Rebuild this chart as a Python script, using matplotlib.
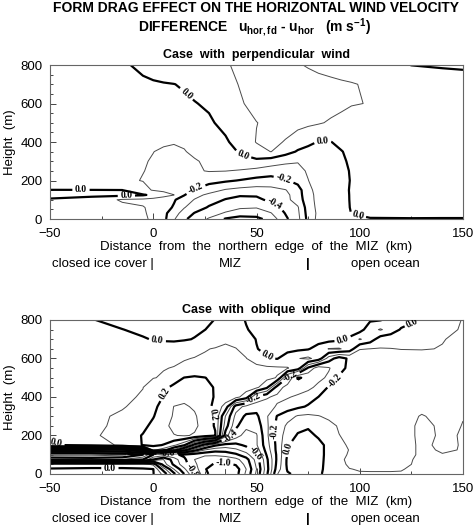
#!/usr/bin/env python3

"""
Form drag effect on the horizontal wind velocity difference, two model cases.
"""

import matplotlib
matplotlib.use("Agg")
import matplotlib.pyplot as plt
import matplotlib.transforms as mtransforms
from matplotlib.ticker import MultipleLocator

# ---- perpendicular wind case: u_hor,fd - u_hor (m/s) on a (height, distance) grid
DIST_PERP_KM = [-50, -30, -15, -5, 0, 5, 10, 15, 20, 27, 35, 42, 50, 57, 64,
                70, 75, 80, 86, 91, 96, 105, 125, 140, 150]
HEIGHT_PERP_M = [0, 30, 60, 100, 125, 150, 200, 250, 300, 350, 400, 500, 600, 700, 800]
DU_PERP = [
    [-0.06, -0.07, -0.08, -0.09, -0.11, -0.17, -0.29, -0.38, -0.45, -0.51, -0.61, -0.65, -0.63,
     -0.56, -0.42, -0.33, -0.17, -0.07, -0.05, -0.025, -0.01, -0.003, -0.002, -0.002, -0.002],
    [-0.05, -0.065, -0.08, -0.095, -0.11, -0.17, -0.26, -0.34, -0.405, -0.46, -0.51, -0.54, -0.55,
     -0.505, -0.395, -0.32, -0.16, -0.08, -0.045, -0.02, 0.001, 0.012, 0.012, 0.01, 0.01],
    [-0.04, -0.06, -0.08, -0.095, -0.12, -0.16, -0.21, -0.295, -0.35, -0.41, -0.46, -0.49, -0.495,
     -0.45, -0.37, -0.31, -0.15, -0.075, -0.04, -0.015, 0.003, 0.015, 0.015, 0.012, 0.012],
    [-0.01, -0.05, -0.11, -0.12, -0.135, -0.16, -0.19, -0.25, -0.305, -0.36, -0.405, -0.43, -0.42,
     -0.38, -0.33, -0.255, -0.14, -0.07, -0.035, -0.015, 0.004, 0.02, 0.02, 0.015, 0.015],
    [0.03, 0.03, 0.025, 0.01, -0.02, -0.06, -0.098, -0.195, -0.27, -0.32, -0.37, -0.39, -0.39,
     -0.37, -0.33, -0.245, -0.135, -0.07, -0.035, -0.014, 0.004, 0.02, 0.02, 0.015, 0.015],
    [0.002, 0.002, 0.001, -0.08, -0.105, -0.12, -0.14, -0.17, -0.205, -0.26, -0.31, -0.33, -0.34,
     -0.33, -0.305, -0.24, -0.13, -0.06, -0.03, -0.012, 0.004, 0.02, 0.02, 0.02, 0.02],
    [-0.06, -0.075, -0.09, -0.102, -0.11, -0.12, -0.13, -0.14, -0.15, -0.165, -0.185, -0.205, -0.23,
     -0.24, -0.21, -0.17, -0.102, -0.06, -0.035, -0.015, 0.003, 0.02, 0.02, 0.02, 0.02],
    [-0.06, -0.075, -0.09, -0.099, -0.105, -0.11, -0.115, -0.115, -0.11, -0.095, -0.098, -0.11, -0.13,
     -0.15, -0.15, -0.125, -0.09, -0.06, -0.035, -0.015, 0.005, 0.02, 0.02, 0.02, 0.02],
    [-0.06, -0.07, -0.085, -0.095, -0.105, -0.115, -0.12, -0.115, -0.107, -0.085, -0.05, -0.015, -0.02,
     -0.05, -0.08, -0.095, -0.08, -0.06, -0.035, -0.01, 0.01, 0.02, 0.025, 0.02, 0.02],
    [-0.06, -0.07, -0.08, -0.09, -0.099, -0.11, -0.115, -0.104, -0.085, -0.06, -0.025, 0.006, 0.06,
     0.102, 0.04, -0.01, -0.02, -0.025, -0.02, -0.002, 0.01, 0.02, 0.025, 0.02, 0.02],
    [-0.06, -0.065, -0.07, -0.08, -0.085, -0.09, -0.095, -0.09, -0.07, -0.04, -0.01, 0.03, 0.105,
     0.12, 0.095, 0.05, 0.015, -0.003, -0.001, 0.01, 0.02, 0.03, 0.03, 0.025, 0.02],
    [-0.06, -0.06, -0.05, -0.045, -0.04, -0.035, -0.03, -0.025, -0.02, -0.01, 0.02, 0.06, 0.098,
     0.12, 0.13, 0.13, 0.12, 0.108, 0.09, 0.075, 0.065, 0.05, 0.04, 0.035, 0.03],
    [-0.06, -0.05, -0.04, -0.03, -0.025, -0.02, -0.015, -0.01, -0.003, 0.01, 0.04, 0.09, 0.13,
     0.14, 0.145, 0.145, 0.14, 0.14, 0.13, 0.12, 0.105, 0.097, 0.06, 0.05, 0.045],
    [-0.05, -0.04, -0.025, -0.012, -0.008, -0.004, -0.001, 0.006, 0.02, 0.04, 0.07, 0.105, 0.12,
     0.13, 0.13, 0.13, 0.125, 0.12, 0.115, 0.11, 0.105, 0.09, 0.06, 0.05, 0.045],
    [-0.05, -0.03, -0.01, 0.015, 0.03, 0.04, 0.05, 0.06, 0.07, 0.08, 0.095, 0.11, 0.12,
     0.12, 0.115, 0.105, 0.095, 0.085, 0.075, 0.065, 0.055, 0.04, -0.001, -0.01, -0.015],
]

# ---- oblique wind case
DIST_OBL_KM = [-50, -30, -15, -5, 0, 5, 10, 15, 20, 25, 30, 35, 40, 45, 50, 55, 60, 65,
               70, 75, 80, 85, 90, 95, 100, 105, 110, 115, 120, 130, 140, 150]
HEIGHT_OBL_M = [0, 25, 50, 75, 100, 125, 150, 200, 250, 300, 350, 400, 450, 500, 550,
                600, 650, 700, 750, 800]
DU_OBL = [
    [0.01, 0.02, 0.02, 0.01, 0.005, -0.13, -0.37, -0.6, -0.8, -0.97, -1.06, -1.1, -1.04, -0.88,
     -0.68, -0.42, -0.105, -0.01, 0.02, 0.03, 0.015, -0.03, -0.06, -0.09, -0.095, -0.095, -0.095,
     -0.096, -0.097, -0.09, -0.097, -0.095],
    [0.008, 0.015, 0.015, 0.01, 0.003, -0.25, -0.5, -0.68, -0.85, -0.99, -1.07, -1.1, -1.05, -0.9,
     -0.7, -0.44, -0.15, 0.01, 0.04, 0.05, 0.03, -0.04, -0.08, -0.098, -0.104, -0.105, -0.105,
     -0.104, -0.102, -0.09, -0.098, -0.096],
    [-0.05, -0.05, -0.05, -0.06, -0.12, -0.45, -0.62, -0.76, -0.88, -0.97, -1.01, -1.02, -0.99, -0.87,
     -0.68, -0.43, -0.17, 0.02, 0.05, 0.06, 0.035, -0.04, -0.08, -0.11, -0.12, -0.12, -0.12,
     -0.118, -0.115, -0.085, -0.095, -0.095],
    [-0.9, -0.92, -0.9, -0.8, -0.6, -0.5, -0.65, -0.78, -0.9, -0.96, -0.98, -0.97, -0.93, -0.84,
     -0.66, -0.42, -0.18, 0.02, 0.06, 0.07, 0.04, -0.04, -0.085, -0.115, -0.125, -0.125, -0.125,
     -0.122, -0.12, -0.085, -0.095, -0.095],
    [-1.15, -1.15, -1.12, -1.0, -0.8, -0.75, -0.78, -0.82, -0.86, -0.88, -0.88, -0.86, -0.82, -0.74,
     -0.6, -0.39, -0.18, 0.005, 0.06, 0.08, 0.045, -0.04, -0.085, -0.105, -0.125, -0.128, -0.13,
     -0.128, -0.125, -0.09, -0.098, -0.097],
    [-0.7, -0.7, -0.65, -0.4, 0.12, 0.05, -0.12, -0.35, -0.55, -0.7, -0.76, -0.76, -0.72, -0.65,
     -0.55, -0.36, -0.17, -0.002, 0.06, 0.08, 0.045, -0.04, -0.08, -0.102, -0.12, -0.125, -0.13,
     -0.128, -0.125, -0.09, -0.105, -0.098],
    [-0.02, 0.04, 0.12, 0.205, 0.22, 0.195, 0.12, 0.01, -0.25, -0.45, -0.58, -0.64, -0.63, -0.58,
     -0.51, -0.34, -0.17, -0.01, 0.05, 0.08, 0.045, -0.04, -0.08, -0.11, -0.12, -0.125, -0.13,
     -0.128, -0.125, -0.09, -0.11, -0.097],
    [0.04, 0.08, 0.15, 0.205, 0.24, 0.27, 0.295, 0.31, 0.29, 0.25, 0.21, -0.25, -0.45, -0.55,
     -0.51, -0.32, -0.16, -0.05, 0.01, 0.04, -0.02, -0.06, -0.098, -0.12, -0.125, -0.13, -0.135,
     -0.128, -0.12, -0.09, -0.105, -0.098],
    [0.05, 0.07, 0.13, 0.18, 0.22, 0.27, 0.33, 0.35, 0.32, 0.26, 0.19, -0.15, -0.38, -0.47,
     -0.46, -0.32, -0.17, -0.08, -0.03, -0.02, -0.03, -0.07, -0.11, -0.13, -0.135, -0.138, -0.14,
     -0.135, -0.13, -0.085, -0.11, -0.099],
    [0.06, 0.07, 0.12, 0.17, 0.195, 0.25, 0.31, 0.33, 0.31, 0.26, 0.19, -0.105, -0.33, -0.42,
     -0.42, -0.31, -0.195, -0.14, -0.09, -0.08, -0.095, -0.12, -0.13, -0.14, -0.145, -0.145, -0.145,
     -0.14, -0.13, -0.095, -0.12, -0.101],
    [0.065, 0.075, 0.09, 0.14, 0.18, 0.23, 0.302, 0.31, 0.29, 0.25, 0.17, 0.06, -0.25, -0.33,
     -0.36, -0.34, -0.29, -0.25, -0.22, -0.19, -0.17, -0.155, -0.15, -0.15, -0.145, -0.145, -0.145,
     -0.142, -0.14, -0.12, -0.125, -0.115],
    [0.07, 0.08, 0.09, 0.105, 0.15, 0.205, 0.25, 0.28, 0.28, 0.25, 0.19, 0.16, 0.13, 0.05,
     -0.22, -0.29, -0.32, -0.31, -0.28, -0.24, -0.199, -0.18, -0.165, -0.155, -0.15, -0.148, -0.145,
     -0.142, -0.14, -0.135, -0.13, -0.125],
    [0.07, 0.08, 0.09, 0.099, 0.13, 0.18, 0.22, 0.25, 0.26, 0.24, 0.19, 0.16, 0.15, 0.14,
     0.12, 0.02, -0.25, -0.34, -0.36, -0.33, -0.27, -0.19, -0.17, -0.16, -0.155, -0.152, -0.15,
     -0.148, -0.145, -0.14, -0.135, -0.13],
    [0.07, 0.075, 0.085, 0.095, 0.098, 0.105, 0.16, 0.202, 0.215, 0.202, 0.18, 0.16, 0.15, 0.14,
     0.135, 0.125, 0.095, -0.21, -0.41, -0.38, -0.33, -0.28, -0.19, -0.17, -0.16, -0.155, -0.15,
     -0.148, -0.145, -0.14, -0.135, -0.13],
    [0.065, 0.07, 0.08, 0.09, 0.095, 0.098, 0.102, 0.11, 0.12, 0.13, 0.14, 0.14, 0.135, 0.13,
     0.125, 0.12, 0.115, 0.105, 0.06, -0.22, -0.36, -0.31, -0.23, -0.18, -0.165, -0.157, -0.15,
     -0.145, -0.14, -0.135, -0.13, -0.13],
    [0.06, 0.065, 0.07, 0.075, 0.08, 0.085, 0.09, 0.097, 0.102, 0.11, 0.12, 0.125, 0.12, 0.102,
     0.06, 0.01, -0.005, 0.05, 0.095, 0.12, 0.06, -0.15, -0.25, -0.18, -0.16, -0.15, -0.14,
     -0.135, -0.13, -0.125, -0.12, -0.12],
    [0.05, 0.05, 0.05, 0.05, 0.055, 0.06, 0.065, 0.075, 0.085, 0.095, 0.105, 0.11, 0.102, 0.08,
     0.005, -0.03, -0.035, -0.03, -0.02, -0.008, 0.04, 0.105, 0.11, 0.06, -0.095, -0.101, -0.105,
     -0.102, -0.098, -0.097, -0.102, -0.11],
    [0.04, 0.035, 0.025, 0.008, -0.005, -0.015, -0.02, -0.01, 0.005, 0.03, 0.06, 0.09, 0.08, 0.05,
     -0.005, -0.03, -0.04, -0.045, -0.045, -0.045, -0.04, -0.035, -0.02, 0.01, 0.11, 0.05, -0.05,
     -0.065, -0.08, -0.085, -0.098, -0.11],
    [0.03, 0.015, 0.002, -0.02, -0.03, -0.035, -0.035, -0.03, -0.02, -0.001, 0.02, 0.04, 0.045, 0.005,
     -0.02, -0.035, -0.04, -0.04, -0.04, -0.04, -0.04, -0.04, -0.04, -0.03, -0.04, 0.06, 0.11,
     0.06, -0.01, -0.05, -0.085, -0.105],
    [0.02, 0.005, -0.03, -0.04, -0.04, -0.04, -0.04, -0.035, -0.03, -0.02, 0.003, 0.03, 0.03, -0.005,
     -0.03, -0.04, -0.05, -0.05, -0.05, -0.05, -0.05, -0.04, -0.04, -0.03, -0.02, -0.012, -0.005,
     0.03, 0.05, -0.01, -0.08, -0.102],
]

# thick contours every 0.2, thin ones in between
THICK_LEVELS = [-1.2, -1.0, -0.8, -0.6, -0.4, -0.2, 0.0, 0.2, 0.4]
THIN_LEVELS = [-1.1, -0.9, -0.7, -0.5, -0.3, -0.1, 0.1, 0.3]

SANS = "Liberation Sans"


def fmt_level(value):
    """Contour label text, one decimal, no negative zero."""
    if abs(value) < 1e-9:
        return "0.0"
    return f"{value:.1f}"


def draw_case(ax, dist, height, du, title, label_spots):
    """Draw one cross-section panel of the wind velocity difference."""
    ax.contour(dist, height, du, levels=THIN_LEVELS, colors="#4a4a4a",
               linewidths=0.7, linestyles="solid")
    cs = ax.contour(dist, height, du, levels=THICK_LEVELS, colors="black",
                    linewidths=1.6, linestyles="solid")
    texts = ax.clabel(cs, manual=label_spots, inline=True,
                      fmt=fmt_level, fontsize=7, inline_spacing=1)
    for t in texts:
        t.set_fontfamily("Liberation Serif")
        t.set_fontweight("bold")

    ax.set_xlim(-50, 150)
    ax.set_ylim(0, 800)
    ax.set_xticks([-50, 0, 50, 100, 150])
    ax.set_yticks([0, 200, 400, 600, 800])
    ax.xaxis.set_minor_locator(MultipleLocator(25))
    ax.yaxis.set_minor_locator(MultipleLocator(50))
    ax.tick_params(which="both", direction="in", top=False, right=False,
                   labelsize=9.5, width=0.7, color="#444444")
    ax.tick_params(which="major", length=4)
    ax.tick_params(which="minor", length=2.5)
    ax.tick_params(axis="x", pad=6.5)
    ax.tick_params(axis="y", pad=5.5)
    for lab in ax.get_xticklabels() + ax.get_yticklabels():
        lab.set_fontfamily(SANS)
    for sp in ax.spines.values():
        sp.set_linewidth(0.8)
        sp.set_color("#666666")

    ax.set_title(title, fontsize=9, fontweight="bold", family=SANS, pad=5)
    ax.set_ylabel("Height  (m)", fontsize=9.5, family=SANS, labelpad=3)
    ax.set_xlabel("Distance  from  the  northern  edge  of  the  MIZ  (km)",
                  fontsize=9.5, family=SANS, labelpad=1)

    trans = mtransforms.blended_transform_factory(ax.transData, ax.transAxes)
    yrow = -0.29
    ax.text(0, yrow, "closed ice cover |", transform=trans, ha="right", va="center",
            fontsize=9.5, family=SANS, clip_on=False)
    ax.text(37.5, yrow, "MIZ", transform=trans, ha="center", va="center",
            fontsize=9.5, family=SANS, clip_on=False)
    ax.text(75, yrow, "|", transform=trans, ha="center", va="center",
            fontsize=9.5, family=SANS, fontweight="bold", clip_on=False)
    ax.text(112.5, yrow, "open ocean", transform=trans, ha="center", va="center",
            fontsize=9.5, family=SANS, clip_on=False)


def plot_form_drag():
    """
    Recreates the two cross sections of the form drag effect.

    Returns
    -------
    None
    """
    plt.rcParams["mathtext.fontset"] = "custom"
    plt.rcParams["mathtext.rm"] = "Liberation Sans:bold"
    plt.rcParams["mathtext.it"] = "Liberation Sans:bold"
    plt.rcParams["mathtext.bf"] = "Liberation Sans:bold"

    fig = plt.figure(figsize=(4.74, 5.29), dpi=100)
    ax_top = fig.add_axes([0.1055, 0.586, 0.8713, 0.2911])
    ax_bot = fig.add_axes([0.1055, 0.104, 0.8713, 0.2911])

    fig.text(0.54, 0.984, "FORM DRAG EFFECT ON THE HORIZONTAL WIND VELOCITY",
             ha="center", va="center", fontsize=10, fontweight="bold", family=SANS)
    fig.text(0.536, 0.948,
             r"DIFFERENCE   $\mathrm{u_{hor,fd}}$ - $\mathrm{u_{hor}}$   (m s$^{\mathrm{-1}}$)",
             ha="center", va="center", fontsize=10, fontweight="bold", family=SANS)

    top_spots = [(17, 661), (43, 315), (82, 405), (99, 21), (-35, 150),
                 (-13, 110), (21, 142), (63, 194), (58, 64)]
    bot_spots = [(-47, 160), (-21, 28), (2, 696), (6.6, 410), (27.6, 306),
                 (55, 609), (48.5, 393), (66, 514), (87, 497), (37, 211),
                 (47.8, 90), (21, 30), (34, 47), (57.4, 225), (64.7, 134),
                 (6.6, 99), (92, 690), (126, 775)]

    draw_case(ax_top, DIST_PERP_KM, HEIGHT_PERP_M, DU_PERP,
              "Case  with  perpendicular  wind", top_spots)
    draw_case(ax_bot, DIST_OBL_KM, HEIGHT_OBL_M, DU_OBL,
              "Case  with  oblique  wind", bot_spots)

    fig.savefig("out.png", dpi=100)


if __name__ == "__main__":
    plot_form_drag()
